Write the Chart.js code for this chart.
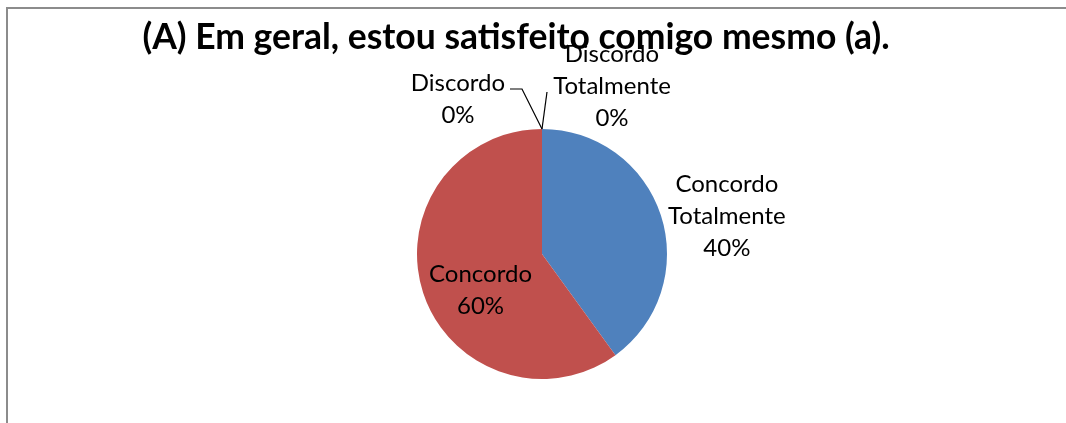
<!DOCTYPE html>
<html>
<head>
<meta charset="utf-8">
<script src="https://cdn.jsdelivr.net/npm/chart.js@4/dist/chart.umd.min.js"></script>
<style>
  html, body { margin: 0; padding: 0; background: #fff; }
  #wrap { width: 1066px; height: 423px; }
</style>
</head>
<body>
<div id="wrap"><canvas id="pieChart" width="1066" height="423"></canvas></div>
<script>
// --- Data ---
const chartTitle = '(A) Em geral, estou satisfeito comigo mesmo (a).';
const categories = ['Concordo Totalmente', 'Concordo', 'Discordo', 'Discordo Totalmente'];
const percentages = [40, 60, 0, 0];

// --- Styles ---
const sliceColors = ['#4F81BD', '#C0504D', '#8064A2', '#9BBB59'];
const labelFont = '24px Lato';
const titleFont = 'bold 35.5px Lato';
const lineHeight = 32;

// Where each label sits, relative to the slice's anchor point
// anchor 'mid' = half radius on the mid angle, 'edge' = outer edge on the mid angle
const labelPlacement = [
    { anchor: 'edge', dx: 66, dy: 1 },
    { anchor: 'mid', dx: -2, dy: 17 },
    { anchor: 'edge', dx: -84, dy: -30, leader: [[-20, -40], [-32, -40]] },
    { anchor: 'edge', dx: 70, dy: -43, leader: [[5, -37]] }
];

// --- Plugin: frame, slice labels, title ---
const decorPlugin = {
    id: 'decor',
    beforeDraw(chart) {
        const ctx = chart.ctx;
        ctx.save();
        ctx.strokeStyle = '#8c8c8c';
        ctx.lineWidth = 2;
        ctx.beginPath();
        ctx.moveTo(7, 423);
        ctx.lineTo(7, 8);
        ctx.lineTo(1066, 8);
        ctx.stroke();
        ctx.restore();
    },
    afterDraw(chart) {
        const ctx = chart.ctx;
        const meta = chart.getDatasetMeta(0);
        ctx.save();
        ctx.font = labelFont;
        ctx.fillStyle = '#000';
        ctx.textAlign = 'center';
        ctx.textBaseline = 'middle';

        meta.data.forEach(function(arc, i) {
            const p = arc.getProps(['x', 'y', 'startAngle', 'endAngle', 'outerRadius'], true);
            const mid = (p.startAngle + p.endAngle) / 2;
            const place = labelPlacement[i];
            const r = place.anchor === 'mid' ? p.outerRadius / 2 : p.outerRadius;
            const ax = p.x + Math.cos(mid) * r;
            const ay = p.y + Math.sin(mid) * r;

            // leader line for the tiny slices
            if (place.leader) {
                ctx.strokeStyle = '#000';
                ctx.lineWidth = 1.2;
                ctx.beginPath();
                ctx.moveTo(ax, ay);
                place.leader.forEach(function(pt) {
                    ctx.lineTo(ax + pt[0], ay + pt[1]);
                });
                ctx.stroke();
            }

            const lines = categories[i].split(' ').concat([percentages[i] + '%']);
            const cx = ax + place.dx;
            const cy = ay + place.dy;
            const top = cy - (lines.length - 1) * lineHeight / 2;
            lines.forEach(function(txt, k) {
                ctx.fillText(txt, cx, top + k * lineHeight);
            });
        });

        // title last, it sits over the top label
        ctx.font = titleFont;
        ctx.textBaseline = 'alphabetic';
        ctx.fillText(chartTitle, 516, 49);
        ctx.restore();
    }
};

new Chart(document.getElementById('pieChart'), {
    type: 'pie',
    data: {
        labels: categories,
        datasets: [{
            data: percentages,
            backgroundColor: sliceColors,
            borderWidth: 0
        }]
    },
    options: {
        responsive: false,
        animation: false,
        rotation: 0,
        layout: {
            padding: { top: 129, bottom: 44, left: 417, right: 399 }
        },
        plugins: {
            legend: { display: false },
            tooltip: { enabled: false },
            title: { display: false }
        }
    },
    plugins: [decorPlugin]
});
</script>
</body>
</html>
